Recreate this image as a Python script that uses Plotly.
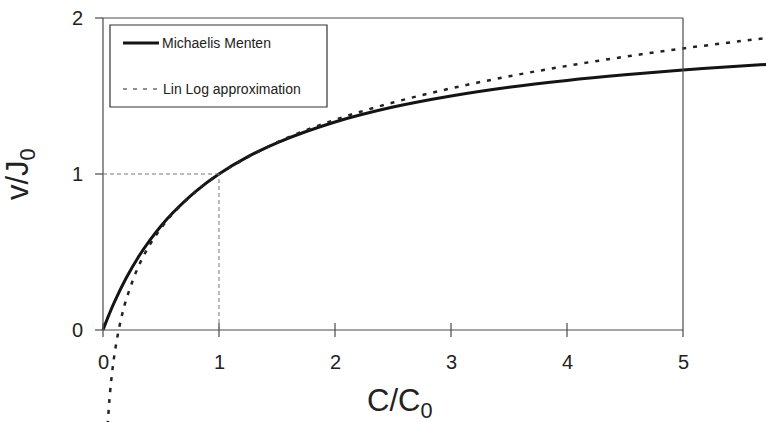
import plotly.graph_objects as go

# ---- data ----
mm_c = [0, 0.05, 0.1, 0.2, 0.3, 0.4, 0.5, 0.6, 0.8, 1.0, 1.25, 1.5, 2.0, 2.5, 3.0, 3.5, 4.0, 4.5, 5.0, 5.5, 5.8]
mm_v = [0, 0.095, 0.182, 0.333, 0.462, 0.571, 0.667, 0.75, 0.889, 1.0, 1.111, 1.2, 1.333, 1.429, 1.5, 1.556, 1.6, 1.636, 1.667, 1.692, 1.706]

ll_c = [0.04, 0.06, 0.08, 0.1, 0.13, 0.16, 0.2, 0.3, 0.4, 0.5, 0.6, 0.8, 1.0, 1.5, 2.0, 2.5, 3.0, 3.5, 4.0, 4.5, 5.0, 5.5, 5.8]
ll_v = [-0.609, -0.407, -0.263, -0.151, -0.020, 0.084, 0.195, 0.398, 0.542, 0.653, 0.745, 0.888, 1.0, 1.203, 1.347, 1.458, 1.549, 1.626, 1.693, 1.752, 1.805, 1.852, 1.879]

x_ticks = [0, 1, 2, 3, 4, 5]
y_ticks = [0, 1, 2]
x_tick_labels = ["0", "1", "2", "3", "4", "5"]
y_tick_labels = ["0", "1", "2"]
series_names = ["Michaelis Menten", "Lin Log approximation"]

FONT = "Liberation Sans, Arial, sans-serif"
AX = "#4a4a4a"
INK = "#141414"

fig = go.Figure()
fig.add_trace(go.Scatter(x=mm_c, y=mm_v, mode="lines", name=series_names[0],
                         line=dict(color=INK, width=3, shape="spline"), showlegend=False))
fig.add_trace(go.Scatter(x=ll_c, y=ll_v, mode="lines", name=series_names[1],
                         line=dict(color="#222222", width=2.5, dash="4px,7px", shape="spline"),
                         showlegend=False))

shapes = []
def seg(x0, y0, x1, y1, color=AX, width=1.2, dash=None, xref="x", yref="y"):
    d = dict(type="line", x0=x0, y0=y0, x1=x1, y1=y1, xref=xref, yref=yref,
             line=dict(color=color, width=width))
    if dash:
        d["line"]["dash"] = dash
    shapes.append(d)

# frame / axes
seg(0, 0, 0, 2)               # y axis
seg(0, 0, 5, 0)               # x axis
seg(0, 2, 5, 2)               # top border
seg(5, 2, 5, -0.045)          # right border
for yv in y_ticks:
    seg(-0.069, yv, 0, yv)
for xv in x_ticks[:-1]:
    seg(xv, -0.045, xv, 0.045)
# guide lines at (1,1)
seg(0, 1, 1, 1, color="#777777", width=1, dash="4px,3px")
seg(1, 0, 1, 1, color="#777777", width=1, dash="4px,3px")

# legend box (paper coords = pixel fractions)
W, H = 766, 422
def px(x): return x / W
def py(y): return 1 - y / H
shapes.append(dict(type="rect", xref="paper", yref="paper", x0=px(110), x1=px(327), y0=py(107), y1=py(25),
                   line=dict(color="#333333", width=1.2), fillcolor="white"))
seg(px(123), py(43), px(159), py(43), color=INK, width=3, xref="paper", yref="paper")
seg(px(123), py(89), px(158), py(89), color="#222222", width=1.2, dash="4px,6px", xref="paper", yref="paper")

annotations = []
for xv, lab in zip(x_ticks, x_tick_labels):
    annotations.append(dict(x=xv, y=-0.205, xref="x", yref="y", text=lab, showarrow=False,
                            font=dict(size=20, color="#222", family=FONT), xanchor="center", yanchor="middle"))
for yv, lab in zip(y_ticks, y_tick_labels):
    annotations.append(dict(x=-0.216, y=yv, xref="x", yref="y", text=lab, showarrow=False,
                            font=dict(size=20, color="#222", family=FONT), xanchor="center", yanchor="middle"))
annotations.append(dict(x=px(399), y=py(403), xref="paper", yref="paper", text="C/C<sub>0</sub>",
                        showarrow=False, font=dict(size=31, color="#222", family=FONT),
                        xanchor="center", yanchor="middle"))
annotations.append(dict(x=px(20), y=py(174), xref="paper", yref="paper", text="v/J<sub>0</sub>",
                        showarrow=False, textangle=-90, font=dict(size=31, color="#222", family=FONT),
                        xanchor="center", yanchor="middle"))
annotations.append(dict(x=px(160), y=py(43), xref="paper", yref="paper", text=series_names[0],
                        showarrow=False, font=dict(size=14, color="#222", family=FONT),
                        xanchor="left", yanchor="middle"))
annotations.append(dict(x=px(161), y=py(89), xref="paper", yref="paper", text=series_names[1],
                        showarrow=False, font=dict(size=14, color="#222", family=FONT),
                        xanchor="left", yanchor="middle"))

fig.update_layout(
    width=W, height=H,
    margin=dict(l=0, r=0, t=0, b=0),
    paper_bgcolor="white", plot_bgcolor="white",
    xaxis=dict(range=[-103 / 116, 663 / 116], visible=False, fixedrange=True),
    yaxis=dict(range=[-(H - 330) / 156, 330 / 156], visible=False, fixedrange=True),
    shapes=shapes, annotations=annotations,
    showlegend=False,
)

fig.write_html("out.html", config={"displayModeBar": False},
               post_script="document.body.style.margin='0';document.body.style.overflow='hidden';")
